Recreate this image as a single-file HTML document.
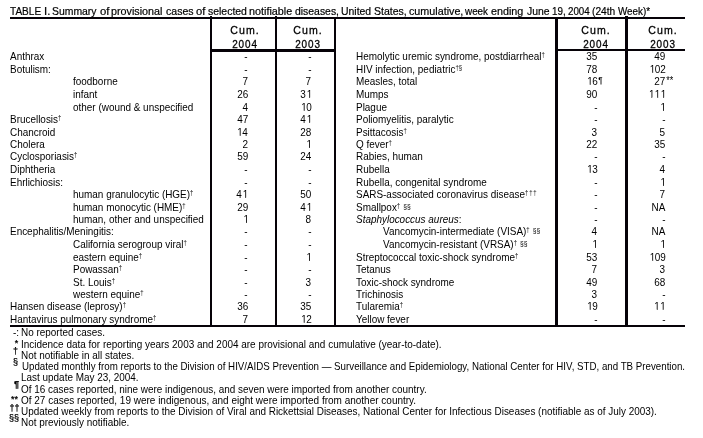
<!DOCTYPE html>
<html><head><meta charset="utf-8"><style>
*{margin:0;padding:0;box-sizing:border-box}
html,body{width:703px;height:438px;overflow:hidden;background:#fff}
body{position:relative;will-change:transform;font-family:"Liberation Sans",sans-serif;color:#000;font-size:11px;line-height:12px}
.a{position:absolute;white-space:nowrap}
.sx{transform:scaleX(0.903);transform-origin:0 0}
.r{position:absolute;white-space:nowrap;transform:scaleX(0.903);transform-origin:100% 0;text-align:right}
.ln{position:absolute;background:#060208}
sup{font-size:6.6px;vertical-align:0;position:relative;top:-3.2px;line-height:0} sup s{text-decoration:none;font-size:7.5px;margin-left:3.3px;position:relative;top:0.8px} .ddd{letter-spacing:1px}
.h{position:absolute;left:100%;top:0;line-height:12px}
.o{position:relative;left:0.1em;margin-right:0.45px;clip-path:polygon(0 0,100% 0,100% 9.05px,60.5% 9.05px,60.5% 100%,46% 100%,46% 9.05px,0 9.05px)}
.hd{position:absolute;font-size:11px;line-height:14px;text-align:center;width:50px;-webkit-text-stroke:0.3px #000;transform:scaleX(0.96)}
.hd span{letter-spacing:1.1px} .hy{transform:scaleX(0.9)} .hy span{letter-spacing:1px}
.title{left:10.5px;font-size:11px;transform:scaleX(0.938) !important}
.tt{-webkit-text-stroke:0.2px #000}
.mk{position:absolute;white-space:nowrap;font-size:9px;line-height:0;-webkit-text-stroke:0.25px #000}
</style></head><body>
<div class="a tt" style="left:10.47px;top:5px;transform:scaleX(0.9143);transform-origin:0 0">TABLE</div><div class="a tt" style="left:43.86px;top:5px;transform:scaleX(1.0353);transform-origin:0 0">I.</div><div class="a tt" style="left:52.43px;top:5px;transform:scaleX(0.9462);transform-origin:0 0">Summary</div><div class="a tt" style="left:99.59px;top:5px;transform:scaleX(1.0286);transform-origin:0 0">of</div><div class="a tt" style="left:111.27px;top:5px;transform:scaleX(0.9776);transform-origin:0 0">provisional</div><div class="a tt" style="left:165.52px;top:5px;transform:scaleX(0.9607);transform-origin:0 0">cases</div><div class="a tt" style="left:195.59px;top:5px;transform:scaleX(1.0171);transform-origin:0 0">of</div><div class="a tt" style="left:207.76px;top:5px;transform:scaleX(0.95);transform-origin:0 0">selected</div><div class="a tt" style="left:249.16px;top:5px;transform:scaleX(0.9801);transform-origin:0 0">notifiable</div><div class="a tt" style="left:295.23px;top:5px;transform:scaleX(0.9467);transform-origin:0 0">diseases,</div><div class="a tt" style="left:341.39px;top:5px;transform:scaleX(0.9475);transform-origin:0 0">United</div><div class="a tt" style="left:374.42px;top:5px;transform:scaleX(0.9557);transform-origin:0 0">States,</div><div class="a tt" style="left:408.61px;top:5px;transform:scaleX(0.977);transform-origin:0 0">cumulative,</div><div class="a tt" style="left:465.2px;top:5px;transform:scaleX(0.8971);transform-origin:0 0">week</div><div class="a tt" style="left:491.21px;top:5px;transform:scaleX(0.9781);transform-origin:0 0">ending</div><div class="a tt" style="left:526.66px;top:5px;transform:scaleX(0.9462);transform-origin:0 0">June</div><div class="a tt" style="left:552.33px;top:5px;transform:scaleX(0.8963);transform-origin:0 0">19,</div><div class="a tt" style="left:568.26px;top:5px;transform:scaleX(0.8884);transform-origin:0 0">2004</div><div class="a tt" style="left:592.31px;top:5px;transform:scaleX(0.9263);transform-origin:0 0">(24th</div><div class="a tt" style="left:618.1px;top:5px;transform:scaleX(0.8951);transform-origin:0 0">Week)*</div>
<div class="ln" style="left:10px;top:17px;width:675px;height:2px"></div>
<div class="ln" style="left:210px;top:16px;width:2px;height:311px"></div>
<div class="ln" style="left:275px;top:16px;width:2px;height:311px"></div>
<div class="ln" style="left:334px;top:17px;width:2px;height:310px"></div>
<div class="ln" style="left:555px;top:17px;width:3px;height:310px"></div>
<div class="ln" style="left:625px;top:16px;width:3px;height:311px"></div>
<div class="ln" style="left:210px;top:49px;width:126px;height:2.6px"></div>
<div class="ln" style="left:555px;top:49px;width:130px;height:2px"></div>
<div class="ln" style="left:10px;top:325px;width:675px;height:2px"></div>
<div class="hd" style="left:220.1px;top:23px"><span>Cum.</span></div>
<div class="hd hy" style="left:220.1px;top:37px"><span>2004</span></div>
<div class="hd" style="left:283.0px;top:23px"><span>Cum.</span></div>
<div class="hd hy" style="left:283.0px;top:37px"><span>2003</span></div>
<div class="hd" style="left:571.2px;top:23px"><span>Cum.</span></div>
<div class="hd hy" style="left:571.2px;top:37px"><span>2004</span></div>
<div class="hd" style="left:638.2px;top:23px"><span>Cum.</span></div>
<div class="hd hy" style="left:638.2px;top:37px"><span>2003</span></div>
<div class="a sx" style="left:10px;top:50px">Anthrax</div>
<div class="r" style="right:454.9px;top:50px">-</div>
<div class="r" style="right:391.7px;top:50px">-</div>
<div class="a sx" style="left:10px;top:63px">Botulism:</div>
<div class="r" style="right:454.9px;top:63px">-</div>
<div class="r" style="right:391.7px;top:63px">-</div>
<div class="a sx" style="left:73px;top:75px">foodborne</div>
<div class="r" style="right:454.9px;top:75px">7</div>
<div class="r" style="right:391.7px;top:75px">7</div>
<div class="a sx" style="left:73px;top:88px">infant</div>
<div class="r" style="right:454.9px;top:88px">26</div>
<div class="r" style="right:391.7px;top:88px">3<span class=o>1</span></div>
<div class="a sx" style="left:73px;top:101px">other (wound &amp; unspecified</div>
<div class="r" style="right:454.9px;top:101px">4</div>
<div class="r" style="right:391.7px;top:101px"><span class=o>1</span>0</div>
<div class="a sx" style="left:10px;top:113px">Brucellosis<sup>†</sup></div>
<div class="r" style="right:454.9px;top:113px">47</div>
<div class="r" style="right:391.7px;top:113px">4<span class=o>1</span></div>
<div class="a sx" style="left:10px;top:126px">Chancroid</div>
<div class="r" style="right:454.9px;top:126px"><span class=o>1</span>4</div>
<div class="r" style="right:391.7px;top:126px">28</div>
<div class="a sx" style="left:10px;top:138px">Cholera</div>
<div class="r" style="right:454.9px;top:138px">2</div>
<div class="r" style="right:391.7px;top:138px"><span class=o>1</span></div>
<div class="a sx" style="left:10px;top:150px">Cyclosporiasis<sup>†</sup></div>
<div class="r" style="right:454.9px;top:150px">59</div>
<div class="r" style="right:391.7px;top:150px">24</div>
<div class="a sx" style="left:10px;top:163px">Diphtheria</div>
<div class="r" style="right:454.9px;top:163px">-</div>
<div class="r" style="right:391.7px;top:163px">-</div>
<div class="a sx" style="left:10px;top:176px">Ehrlichiosis:</div>
<div class="r" style="right:454.9px;top:176px">-</div>
<div class="r" style="right:391.7px;top:176px">-</div>
<div class="a sx" style="left:73px;top:188px">human granulocytic (HGE)<sup>†</sup></div>
<div class="r" style="right:454.9px;top:188px">4<span class=o>1</span></div>
<div class="r" style="right:391.7px;top:188px">50</div>
<div class="a sx" style="left:73px;top:201px">human monocytic (HME)<sup>†</sup></div>
<div class="r" style="right:454.9px;top:201px">29</div>
<div class="r" style="right:391.7px;top:201px">4<span class=o>1</span></div>
<div class="a sx" style="left:73px;top:213px">human, other and unspecified</div>
<div class="r" style="right:454.9px;top:213px"><span class=o>1</span></div>
<div class="r" style="right:391.7px;top:213px">8</div>
<div class="a sx" style="left:10px;top:225px">Encephalitis/Meningitis:</div>
<div class="r" style="right:454.9px;top:225px">-</div>
<div class="r" style="right:391.7px;top:225px">-</div>
<div class="a sx" style="left:73px;top:238px">California serogroup viral<sup>†</sup></div>
<div class="r" style="right:454.9px;top:238px">-</div>
<div class="r" style="right:391.7px;top:238px">-</div>
<div class="a sx" style="left:73px;top:251px">eastern equine<sup>†</sup></div>
<div class="r" style="right:454.9px;top:251px">-</div>
<div class="r" style="right:391.7px;top:251px"><span class=o>1</span></div>
<div class="a sx" style="left:73px;top:263px">Powassan<sup>†</sup></div>
<div class="r" style="right:454.9px;top:263px">-</div>
<div class="r" style="right:391.7px;top:263px">-</div>
<div class="a sx" style="left:73px;top:276px">St. Louis<sup>†</sup></div>
<div class="r" style="right:454.9px;top:276px">-</div>
<div class="r" style="right:391.7px;top:276px">3</div>
<div class="a sx" style="left:73px;top:288px">western equine<sup>†</sup></div>
<div class="r" style="right:454.9px;top:288px">-</div>
<div class="r" style="right:391.7px;top:288px">-</div>
<div class="a sx" style="left:10px;top:300px">Hansen disease (leprosy)<sup>†</sup></div>
<div class="r" style="right:454.9px;top:300px">36</div>
<div class="r" style="right:391.7px;top:300px">35</div>
<div class="a sx" style="left:10px;top:313px">Hantavirus pulmonary syndrome<sup>†</sup></div>
<div class="r" style="right:454.9px;top:313px">7</div>
<div class="r" style="right:391.7px;top:313px"><span class=o>1</span>2</div>
<div class="a sx" style="left:355.7px;top:50px">Hemolytic uremic syndrome, postdiarrheal<sup>†</sup></div>
<div class="r" style="right:105.5px;top:50px">35</div>
<div class="r" style="right:37.5px;top:50px">49</div>
<div class="a sx" style="left:355.7px;top:63px">HIV infection, pediatric<sup>†§</sup></div>
<div class="r" style="right:105.5px;top:63px">78</div>
<div class="r" style="right:37.5px;top:63px"><span class=o>1</span>02</div>
<div class="a sx" style="left:355.7px;top:75px">Measles, total</div>
<div class="r" style="right:105.5px;top:75px"><span class=o>1</span>6<span class=h style='font-size:9px;top:-1.5px;left:calc(100% + 0.6px)'>¶</span></div>
<div class="r" style="right:37.5px;top:75px">27<span class=h style='font-size:10px;top:0px;left:calc(100% + 1.2px)'>**</span></div>
<div class="a sx" style="left:355.7px;top:88px">Mumps</div>
<div class="r" style="right:105.5px;top:88px">90</div>
<div class="r" style="right:37.5px;top:88px"><span class=o>1</span><span class=o>1</span><span class=o>1</span></div>
<div class="a sx" style="left:355.7px;top:101px">Plague</div>
<div class="r" style="right:105.5px;top:101px">-</div>
<div class="r" style="right:37.5px;top:101px"><span class=o>1</span></div>
<div class="a sx" style="left:355.7px;top:113px">Poliomyelitis, paralytic</div>
<div class="r" style="right:105.5px;top:113px">-</div>
<div class="r" style="right:37.5px;top:113px">-</div>
<div class="a sx" style="left:355.7px;top:126px">Psittacosis<sup>†</sup></div>
<div class="r" style="right:105.5px;top:126px">3</div>
<div class="r" style="right:37.5px;top:126px">5</div>
<div class="a sx" style="left:355.7px;top:138px">Q fever<sup>†</sup></div>
<div class="r" style="right:105.5px;top:138px">22</div>
<div class="r" style="right:37.5px;top:138px">35</div>
<div class="a sx" style="left:355.7px;top:150px">Rabies, human</div>
<div class="r" style="right:105.5px;top:150px">-</div>
<div class="r" style="right:37.5px;top:150px">-</div>
<div class="a sx" style="left:355.7px;top:163px">Rubella</div>
<div class="r" style="right:105.5px;top:163px"><span class=o>1</span>3</div>
<div class="r" style="right:37.5px;top:163px">4</div>
<div class="a sx" style="left:355.7px;top:176px">Rubella, congenital syndrome</div>
<div class="r" style="right:105.5px;top:176px">-</div>
<div class="r" style="right:37.5px;top:176px"><span class=o>1</span></div>
<div class="a sx" style="left:355.7px;top:188px">SARS-associated coronavirus disease<sup class=ddd>†††</sup></div>
<div class="r" style="right:105.5px;top:188px">-</div>
<div class="r" style="right:37.5px;top:188px">7</div>
<div class="a sx" style="left:355.7px;top:201px">Smallpox<sup>†<s>§§</s></sup></div>
<div class="r" style="right:105.5px;top:201px">-</div>
<div class="r" style="right:37.5px;top:201px">NA</div>
<div class="a sx" style="left:355.7px;top:213px"><em>Staphylococcus aureus</em>:</div>
<div class="r" style="right:105.5px;top:213px">-</div>
<div class="r" style="right:37.5px;top:213px">-</div>
<div class="a sx" style="left:382.7px;top:225px">Vancomycin-intermediate (VISA)<sup>†<s>§§</s></sup></div>
<div class="r" style="right:105.5px;top:225px">4</div>
<div class="r" style="right:37.5px;top:225px">NA</div>
<div class="a sx" style="left:382.7px;top:238px">Vancomycin-resistant (VRSA)<sup>†<s>§§</s></sup></div>
<div class="r" style="right:105.5px;top:238px"><span class=o>1</span></div>
<div class="r" style="right:37.5px;top:238px"><span class=o>1</span></div>
<div class="a sx" style="left:355.7px;top:251px">Streptococcal toxic-shock syndrome<sup>†</sup></div>
<div class="r" style="right:105.5px;top:251px">53</div>
<div class="r" style="right:37.5px;top:251px"><span class=o>1</span>09</div>
<div class="a sx" style="left:355.7px;top:263px">Tetanus</div>
<div class="r" style="right:105.5px;top:263px">7</div>
<div class="r" style="right:37.5px;top:263px">3</div>
<div class="a sx" style="left:355.7px;top:276px">Toxic-shock syndrome</div>
<div class="r" style="right:105.5px;top:276px">49</div>
<div class="r" style="right:37.5px;top:276px">68</div>
<div class="a sx" style="left:355.7px;top:288px">Trichinosis</div>
<div class="r" style="right:105.5px;top:288px">3</div>
<div class="r" style="right:37.5px;top:288px">-</div>
<div class="a sx" style="left:355.7px;top:300px">Tularemia<sup>†</sup></div>
<div class="r" style="right:105.5px;top:300px"><span class=o>1</span>9</div>
<div class="r" style="right:37.5px;top:300px"><span class=o>1</span><span class=o>1</span></div>
<div class="a sx" style="left:355.7px;top:313px">Yellow fever</div>
<div class="r" style="right:105.5px;top:313px">-</div>
<div class="r" style="right:37.5px;top:313px">-</div>
<div class="a sx" style="left:20.6px;top:326px;">No reported cases.</div>
<div class="a sx" style="left:20.6px;top:338px;transform:scaleX(0.905);">Incidence data for reporting years 2003 and 2004 are provisional and cumulative (year-to-date).</div>
<div class="a sx" style="left:20.6px;top:349px;">Not notifiable in all states.</div>
<div class="a sx" style="left:21.6px;top:360px;transform:scaleX(0.8848);">Updated monthly from reports to the Division of HIV/AIDS Prevention — Surveillance and Epidemiology, National Center for HIV, STD, and TB Prevention.</div>
<div class="a sx" style="left:20.6px;top:371px;">Last update May 23, 2004.</div>
<div class="a sx" style="left:20.6px;top:383px;">Of 16 cases reported, nine were indigenous, and seven were imported from another country.</div>
<div class="a sx" style="left:20.6px;top:394px;transform:scaleX(0.908);">Of 27 cases reported, 19 were indigenous, and eight were imported from another country.</div>
<div class="a sx" style="left:20.6px;top:405px;">Updated weekly from reports to the Division of Viral and Rickettsial Diseases, National Center for Infectious Diseases (notifiable as of July 2003).</div>
<div class="a sx" style="left:20.6px;top:416px;">Not previously notifiable.</div>
<div class="a sx" style="left:12.5px;top:326px">-:</div>
<div class="mk" style="left:14.7px;top:343px;">*</div>
<div class="mk" style="left:13.1px;top:351px;">†</div>
<div class="mk" style="left:13.1px;top:362px;">§</div>
<div class="mk" style="left:14px;top:384px;font-weight:bold">¶</div>
<div class="mk" style="left:11px;top:399px;">**</div>
<div class="mk" style="left:9.6px;top:408px;">††</div>
<div class="mk" style="left:9.1px;top:418px;">§§</div>
</body></html>
